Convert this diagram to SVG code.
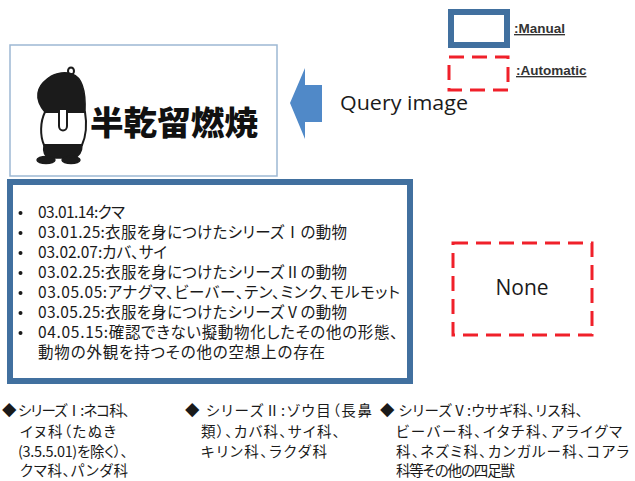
<svg xmlns="http://www.w3.org/2000/svg" width="635" height="481" viewBox="0 0 635 481">
  <style>
    .manual { fill: #ffffff; stroke: #41709f; stroke-width: 6; }
    .auto { fill: none; stroke: #f0202a; stroke-width: 3; stroke-dasharray: 15 8; }
    .legend { font-family: "Liberation Sans", Arial, sans-serif; font-weight: bold; font-size: 13.5px; fill: #333333; text-decoration: underline; }
    .latin { font-family: "Open Sans", "Liberation Sans", sans-serif; fill: #1a1a1a; }
    .jp { font-family: "Noto Sans CJK JP", "Noto Sans", sans-serif; fill: #1a1a1a; font-size: 15.5px; font-feature-settings: "palt"; }
    .jps { font-family: "Noto Sans CJK JP", "Noto Sans", sans-serif; fill: #1a1a1a; font-size: 14.5px; font-feature-settings: "palt"; }
    .ink { fill: #1b1b1b; stroke: #1b1b1b; stroke-width: 1.5; stroke-linejoin: round; }
    .paper { fill: #ffffff; stroke: #1b1b1b; stroke-width: 2; stroke-linejoin: round; }
  </style>
  <rect width="635" height="481" fill="#ffffff"/>

  <!-- legend -->
  <g id="legend">
    <rect class="manual" x="451" y="12" width="56" height="33"/>
    <text class="legend" x="514" y="33">:Manual</text>
    <rect class="auto" x="449" y="57" width="59" height="33"/>
    <text class="legend" x="516" y="75">:Automatic</text>
  </g>

  <!-- query image panel -->
  <g id="query-image">
    <rect x="10" y="45" width="267" height="131" fill="#ffffff" stroke="#9db8d3" stroke-width="1.5"/>
    <g id="mascot">
      <ellipse cx="71" cy="71" rx="3" ry="3.5" class="paper" stroke-width="1.5"/>
      <path class="ink" fill="#2a2a2a" d="M45,112 C40,106 37,100 38,93 C39,87 42,83 46,80 C52,74 63,71 72,74 C81,77 86,90 85,112 Z"/>
      <path class="paper" d="M45,112 L85,112 C87,124 86,136 82,145 L44,145 C40,136 40,122 45,112 Z"/>
      <path class="ink" d="M44,145 L82,145 C82,151 79,156 74,158 L49,158 C45,156 43,151 44,145 Z"/>
      <ellipse class="ink" cx="46" cy="160" rx="9" ry="3.5"/>
      <ellipse class="ink" cx="71" cy="160" rx="9" ry="3.5"/>
      <path class="paper" stroke-width="1.5" d="M59,110 L59,126 C59,132 67,132 67,126 L67,110"/>
    </g>
    <text x="90" y="135" font-family="'Noto Sans CJK JP', sans-serif" font-weight="900" font-size="33" fill="#111111" textLength="168" lengthAdjust="spacingAndGlyphs">半乾留燃焼</text>
  </g>

  <!-- manual classification box -->
  <g id="manual-codes">
    <rect class="manual" x="10" y="182" width="400" height="199"/>
    <g fill="#1a1a1a">
      <circle cx="20.5" cy="213" r="2"/>
      <circle cx="20.5" cy="233" r="2"/>
      <circle cx="20.5" cy="253" r="2"/>
      <circle cx="20.5" cy="273" r="2"/>
      <circle cx="20.5" cy="293" r="2"/>
      <circle cx="20.5" cy="313" r="2"/>
      <circle cx="20.5" cy="333" r="2"/>
    </g>
    <text class="jp" x="38" y="218" textLength="87" lengthAdjust="spacing">03.01.14:クマ</text>
    <text class="jp" x="38" y="238" textLength="309" lengthAdjust="spacing">03.01.25:衣服を身につけたシリーズⅠの動物</text>
    <text class="jp" x="38" y="258" textLength="129" lengthAdjust="spacing">03.02.07:カバ、サイ</text>
    <text class="jp" x="38" y="278" textLength="309" lengthAdjust="spacing">03.02.25:衣服を身につけたシリーズⅡの動物</text>
    <text class="jp" x="38" y="298" textLength="362" lengthAdjust="spacing">03.05.05:アナグマ、ビーバー、テン、ミンク、モルモット</text>
    <text class="jp" x="38" y="318" textLength="309" lengthAdjust="spacing">03.05.25:衣服を身につけたシリーズⅤの動物</text>
    <text class="jp" x="38" y="338" textLength="360" lengthAdjust="spacing">04.05.15:確認できない擬動物化したその他の形態、</text>
    <text class="jp" x="38" y="358" textLength="287" lengthAdjust="spacing">動物の外観を持つその他の空想上の存在</text>
  </g>

  <!-- automatic classification box -->
  <g id="automatic-codes">
    <rect class="auto" x="453" y="243" width="139" height="92"/>
    <text class="latin" x="522" y="295" font-size="21" text-anchor="middle">None</text>
  </g>

  <!-- connector: query image input -->
  <g id="connectors">
    <polygon points="290,103 305,68 305,85 322,85 322,122 305,122 305,139" fill="#5089c8"/>
    <text class="latin" x="340" y="110" font-size="20" textLength="128" lengthAdjust="spacingAndGlyphs">Query image</text>
  </g>

  <!-- series notes -->
  <g id="series-notes">
    <text class="jps" x="2" y="416" font-size="14" textLength="128" lengthAdjust="spacing">◆ シリーズⅠ:ネコ科、</text>
    <text class="jps" x="20" y="437" font-size="14" textLength="96" lengthAdjust="spacing">イヌ科（たぬき</text>
    <text class="jps" x="18" y="457" font-size="14" textLength="110" lengthAdjust="spacing">(3.5.5.01)を除く）、</text>
    <text class="jps" x="20" y="476" font-size="14" textLength="108" lengthAdjust="spacing">クマ科、パンダ科</text>

    <text class="jps" x="185" y="416" textLength="187" lengthAdjust="spacing">◆ シリーズⅡ:ゾウ目（長鼻</text>
    <text class="jps" x="201" y="437" textLength="139" lengthAdjust="spacing">類）、カバ科、サイ科、</text>
    <text class="jps" x="201" y="457" textLength="126" lengthAdjust="spacing">キリン科、ラクダ科</text>

    <text class="jps" x="380" y="416" textLength="203" lengthAdjust="spacing">◆ シリーズⅤ:ウサギ科、リス科、</text>
    <text class="jps" x="396" y="437" textLength="226" lengthAdjust="spacing">ビーバー科、イタチ科、アライグマ</text>
    <text class="jps" x="396" y="457" textLength="233" lengthAdjust="spacing">科、ネズミ科、カンガルー科、コアラ</text>
    <text class="jps" x="396" y="476" textLength="119" lengthAdjust="spacing">科等その他の四足獣</text>
  </g>
</svg>
